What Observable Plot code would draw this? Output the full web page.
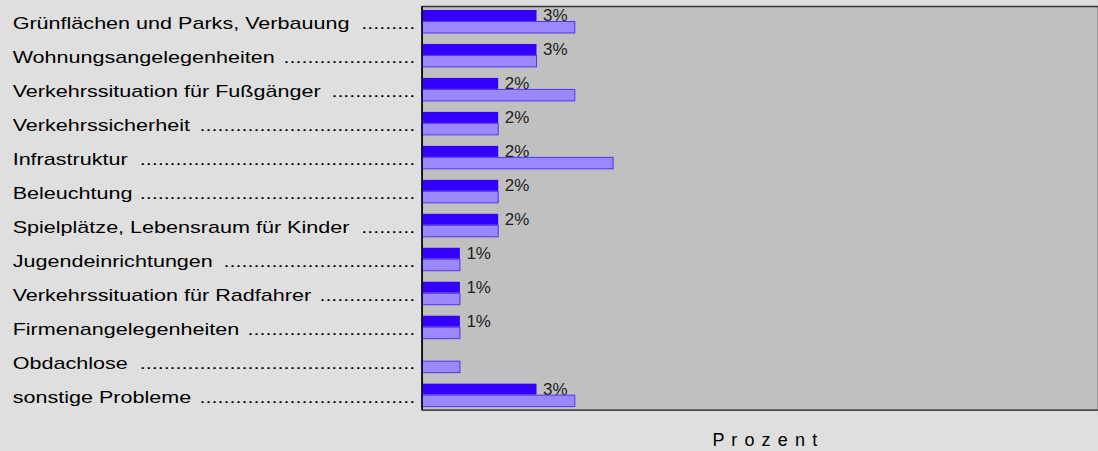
<!DOCTYPE html>
<html><head><meta charset="utf-8">
<script src="https://cdn.jsdelivr.net/npm/d3@7"></script>
<script src="https://cdn.jsdelivr.net/npm/@observablehq/plot@0.6"></script>
<style>
html,body{margin:0;padding:0;background:#dfdfdf;}
#chart{width:1098px;height:451px;overflow:hidden;}
</style></head><body><div id="chart"></div>
<script>
const categories = [
  "Grünflächen und Parks, Verbauung",
  "Wohnungsangelegenheiten",
  "Verkehrssituation für Fußgänger",
  "Verkehrssicherheit",
  "Infrastruktur",
  "Beleuchtung",
  "Spielplätze, Lebensraum für Kinder",
  "Jugendeinrichtungen",
  "Verkehrssituation für Radfahrer",
  "Firmenangelegenheiten",
  "Obdachlose",
  "sonstige Probleme"
];
const seriesA = [3, 3, 2, 2, 2, 2, 2, 1, 1, 1, 0, 3];
const seriesB = [4, 3, 4, 2, 5, 2, 2, 1, 1, 1, 1, 4];
const axisLabel = "P r o z e n t";

const W = 1099, H = 451, ML = 422, MR = 0, MT = 6, MB = 41;
const SX = 1.27;
const FONT = "'Liberation Sans', Arial, Helvetica, sans-serif";
const FS = 17;

const cv = document.createElement("canvas").getContext("2d");
cv.font = `${FS}px 'Liberation Sans'`;
const dotW = cv.measureText(".").width;
const spW = cv.measureText(" ").width;
const startNat = 12 / SX, endNat = 415 / SX;

const data = categories.map((c, i) => {
  const nw = cv.measureText(c).width;
  const n = Math.max(0, Math.floor((endNat - startNat - nw - spW) / dotW));
  return {cat: c, a: seriesA[i], b: seriesB[i], lab: seriesA[i] > 0 ? seriesA[i] + "%" : "", dots: ".".repeat(n)};
});

const chart = Plot.plot({
  width: W, height: H,
  marginLeft: ML, marginRight: MR, marginTop: MT, marginBottom: MB,
  style: {background: "#dfdfdf", fontFamily: FONT, overflow: "visible"},
  x: {domain: [0, 17.66], axis: null},
  y: {domain: categories, range: [MT, MT + 34 * categories.length], padding: 0, axis: null},
  marks: [
    Plot.frame({fill: "#c0c0c0", stroke: "#333", strokeWidth: 1.5}),
    Plot.barX(data, {x: "a", y: "cat", fill: "#3300ff", insetTop: 4, insetBottom: 19}),
    Plot.text(data.filter(d => d.a > 0), {x: "a", y: "cat", text: "lab", dx: 6, dy: -7.5, textAnchor: "start", fontSize: FS, fill: "#222"}),
    Plot.barX(data, {x: "b", y: "cat", fill: "#9988ff", stroke: "#5533ee", strokeWidth: 1, insetTop: 15.5, insetBottom: 7}),
    Plot.ruleX([0], {stroke: "#000", strokeWidth: 1.5}),
    Plot.text(data, {y: "cat", frameAnchor: "left", text: "cat", textAnchor: "start", dx: startNat - ML, dy: 0.5, fontSize: FS, fill: "#000", ariaDescription: "ylab"}),
    Plot.text(data, {y: "cat", frameAnchor: "left", text: "dots", textAnchor: "end", dx: endNat - ML, dy: 0.5, fontSize: FS, fill: "#000", ariaDescription: "ydots"}),
    Plot.text([axisLabel], {frameAnchor: "bottom", text: d => d, textAnchor: "middle", dx: 765.5 - (ML + (W - ML - MR) / 2), dy: 36, fontSize: 18, fill: "#000", ariaDescription: "xlab"})
  ]
});
document.getElementById("chart").appendChild(chart);

const ns = "http://www.w3.org/2000/svg";
for (const name of ["ylab", "ydots"]) {
  const g = chart.querySelector(`g[aria-description="${name}"]`);
  if (!g) continue;
  const w = document.createElementNS(ns, "g");
  w.setAttribute("transform", `scale(${SX},1)`);
  g.parentNode.insertBefore(w, g);
  w.appendChild(g);
}
const xl = chart.querySelector('g[aria-description="xlab"]');
if (xl) xl.setAttribute("letter-spacing", "1.1");
</script></body></html>
